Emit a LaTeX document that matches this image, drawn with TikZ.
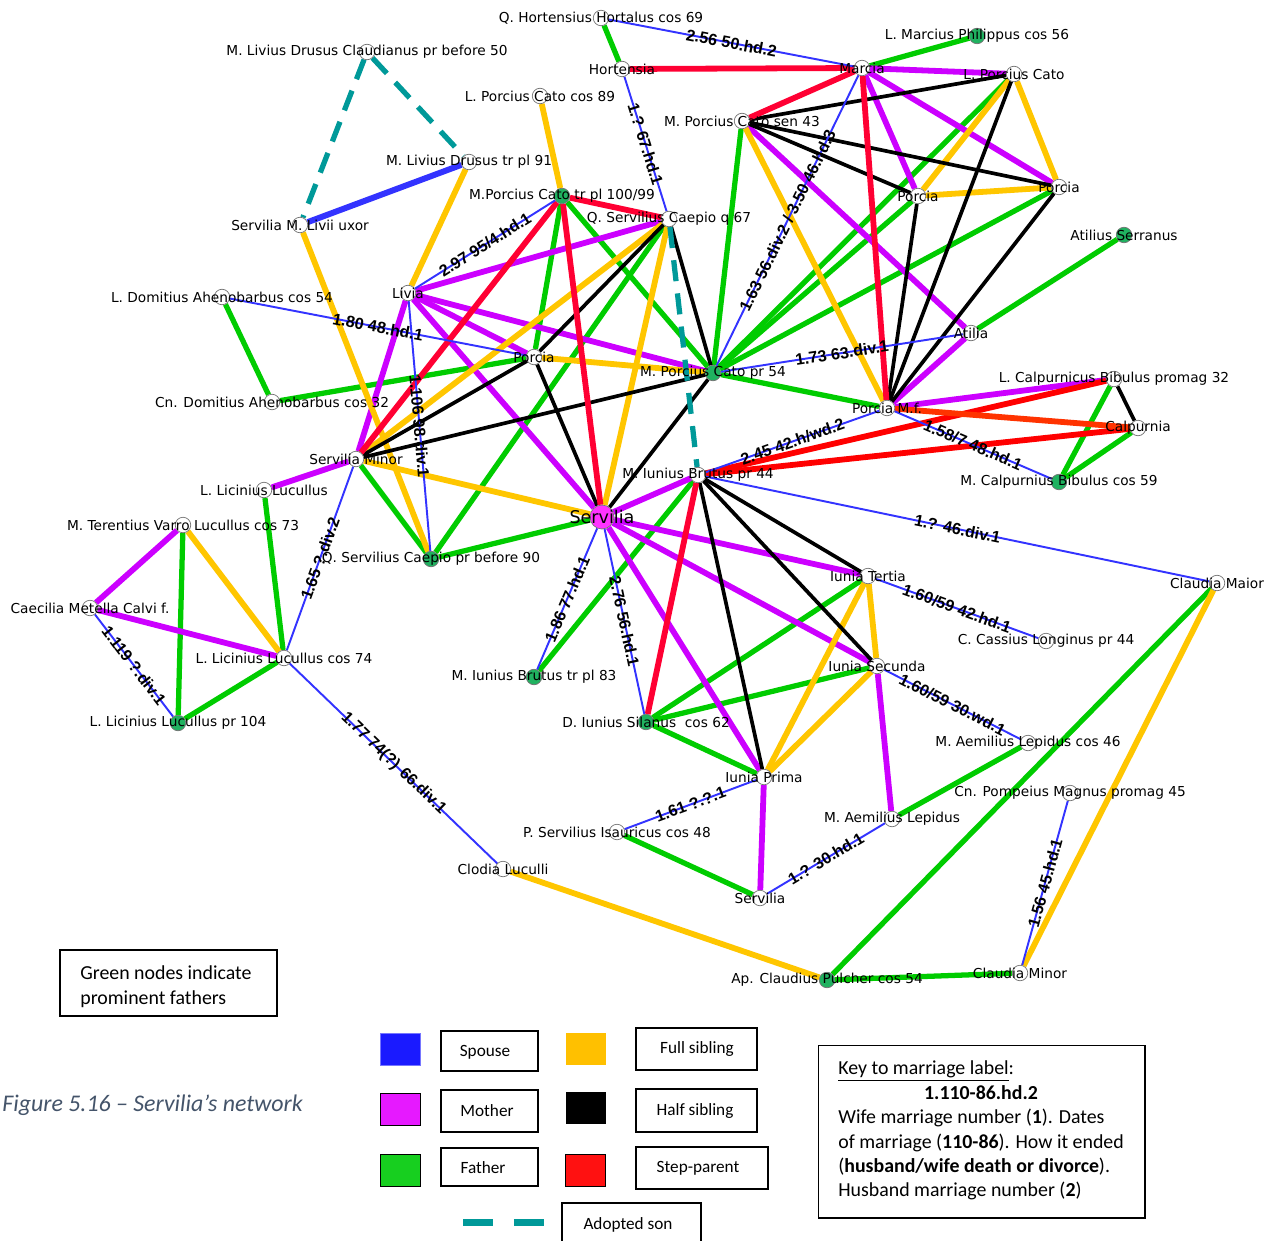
\documentclass[tikz,border=0pt]{standalone}
\usepackage{fontspec}
\setmainfont{DejaVu Sans}
\newfontfamily\edgefont{Liberation Sans}
\newfontfamily\calfont{Carlito}
\pgfdeclarelayer{edgelayer}
\pgfsetlayers{edgelayer,main}
\definecolor{cspouse}{RGB}{51,51,255}
\definecolor{cmother}{RGB}{204,0,255}
\definecolor{cfather}{RGB}{0,204,0}
\definecolor{cfull}{RGB}{255,198,0}
\definecolor{chalf}{RGB}{0,0,0}
\definecolor{cstep}{RGB}{255,0,51}
\definecolor{cstepb}{RGB}{255,0,0}
\definecolor{cstepo}{RGB}{255,51,0}
\definecolor{cadopt}{RGB}{0,153,153}
\definecolor{cgnode}{RGB}{32,178,96}
\definecolor{csnode}{RGB}{255,51,255}
\definecolor{ccaption}{RGB}{68,84,106}
\definecolor{lgblue}{RGB}{26,26,255}
\definecolor{lgmag}{RGB}{230,25,255}
\definecolor{lggreen}{RGB}{23,207,31}
\definecolor{lgyellow}{RGB}{255,192,0}
\definecolor{lgred}{RGB}{255,17,17}
\tikzset{
  spouse/.style={draw=cspouse, line width=1.1pt},
  mother/.style={draw=cmother, line width=3.3pt},
  father/.style={draw=cfather, line width=3pt},
  full/.style={draw=cfull, line width=3.3pt},
  half/.style={draw=chalf, line width=2.1pt},
  steppar/.style={draw=cstep, line width=3.3pt},
  adopt/.style={draw=cadopt, line width=3pt, dash pattern=on 12pt off 7pt},
  elab/.style={font=\edgefont\bfseries\fontsize{9.2}{9.2}\selectfont, sloped, midway, inner sep=0pt},
  pn/.style={circle, draw=black!55, fill=white, line width=0.4pt, minimum size=0.31cm, inner sep=0pt},
  gn/.style={pn, fill=cgnode},
  nl/.style={font=\fontsize{7.8}{9}\selectfont, inner sep=0pt},
  lgsq/.style={minimum width=0.8cm, minimum height=0.64cm, inner sep=0pt},
  lgbox/.style={draw, line width=0.6pt, inner sep=0pt},
  lgtxt/.style={font=\calfont\fontsize{9.8}{11}\selectfont, inner sep=0pt},
  keytxt/.style={font=\calfont\fontsize{11.3}{13}\selectfont, inner sep=0pt, anchor=base west}
}
\begin{document}
\begin{tikzpicture}[x=0.02cm, y=-0.02cm]
\useasboundingbox (0,0) rectangle (1280,1240);
% ---------- nodes ----------
\node[pn] (hort) at (601,18) {};
\node[gn] (philip) at (977,36) {};
\node[pn] (drusc) at (367,52) {};
\node[pn] (hortensia) at (622,69) {};
\node[pn] (marcia) at (862,68) {};
\node[pn] (lcato) at (1014,74) {};
\node[pn] (lcato89) at (540,96) {};
\node[pn] (catosen) at (742,121) {};
\node[pn] (drusus) at (469,162) {};
\node[gn] (catotr) at (562,196) {};
\node[pn] (porciaR) at (1059,187) {};
\node[pn] (porciaM) at (918,196) {};
\node[pn] (caepioq) at (669,219) {};
\node[pn] (servliv) at (300,225) {};
\node[gn] (atser) at (1124,235) {};
\node[pn] (ldom) at (222,297) {};
\node[pn] (livia) at (408,293) {};
\node[pn] (atilia) at (971,333) {};
\node[pn] (porciaC) at (534,357) {};
\node[gn] (catopr) at (713,373) {};
\node[pn] (calpL) at (1114,379) {};
\node[pn] (cndom) at (272,402) {};
\node[pn] (porciaMf) at (887,408) {};
\node[pn] (calpurnia) at (1138,428) {};
\node[pn] (servmin) at (356,459) {};
\node[pn] (brutus) at (698,475) {};
\node[gn] (calpM) at (1059,482) {};
\node[pn] (lucL) at (264,490) {};
\node[pn, fill=csnode, minimum size=0.48cm] (servilia) at (602,517) {};
\node[pn] (varro) at (183,525) {};
\node[gn] (caepio90) at (431,559) {};
\node[pn] (tertia) at (868,576) {};
\node[pn] (clmaior) at (1217,583) {};
\node[pn] (caecilia) at (90,608) {};
\node[pn] (cassius) at (1046,641) {};
\node[pn] (luc74) at (284,658) {};
\node[pn] (secunda) at (877,666) {};
\node[gn] (brutus83) at (534,677) {};
\node[gn] (silanus) at (646,722) {};
\node[gn] (luc104) at (178,723) {};
\node[pn] (lep46) at (1028,743) {};
\node[pn] (prima) at (764,777) {};
\node[pn] (pomp) at (1070,793) {};
\node[pn] (lep) at (892,819) {};
\node[pn] (isaur) at (617,832) {};
\node[pn] (clodia) at (503,869) {};
\node[pn] (servB) at (760,898) {};
\node[gn] (appius) at (827,980) {};
\node[pn] (clminor) at (1020,973) {};
% ---------- edges ----------
\begin{pgfonlayer}{edgelayer}
\fill[white] (0,0) rectangle (1280,1240);
% father
\draw[father] (hort) -- (hortensia);
\draw[father] (philip) -- (marcia);
\draw[father] (catosen) -- (catopr);
\draw[father] (catopr) -- (lcato);
\draw[father] (catopr) -- (porciaM);
\draw[father] (catopr) -- (porciaR);
\draw[father] (catopr) -- (porciaMf);
\draw[father] (catotr) -- (catopr);
\draw[father] (catotr) -- (porciaC);
\draw[father] (atser) -- (atilia);
\draw[father] (ldom) -- (cndom);
\draw[father] (cndom) -- (porciaC);
\draw[father] (lucL) -- (luc74);
\draw[father] (varro) -- (luc104);
\draw[father] (luc104) -- (luc74);
\draw[father] (caepio90) -- (servilia);
\draw[father] (caepio90) -- (servmin);
\draw[father] (caepio90) -- (caepioq);
\draw[father] (brutus) -- (brutus83);
\draw[father] (silanus) -- (tertia);
\draw[father] (silanus) -- (secunda);
\draw[father] (silanus) -- (prima);
\draw[father] (isaur) -- (servB);
\draw[father] (lep) -- (lep46);
\draw[father] (calpL) -- (calpM);
\draw[father] (calpM) -- (calpurnia);
\draw[father] (clmaior) -- (appius);
\draw[father] (appius) -- (clminor);
% mother
\draw[mother] (marcia) -- (lcato);
\draw[mother] (marcia) -- (porciaM);
\draw[mother] (marcia) -- (porciaR);
\draw[mother] (atilia) -- (catosen);
\draw[mother] (atilia) -- (porciaMf);
\draw[mother] (livia) -- (caepioq);
\draw[mother] (livia) -- (catopr);
\draw[mother] (livia) -- (porciaC);
\draw[mother] (livia) -- (servilia);
\draw[mother] (livia) -- (servmin);
\draw[mother] (servmin) -- (lucL);
\draw[mother] (varro) -- (caecilia);
\draw[mother] (caecilia) -- (luc74);
\draw[mother] (servilia) -- (brutus);
\draw[mother] (servilia) -- (tertia);
\draw[mother] (servilia) -- (secunda);
\draw[mother] (servilia) -- (prima);
\draw[mother] (porciaMf) -- (calpL);
\draw[mother] (prima) -- (servB);
\draw[mother] (secunda) -- (lep);
% full sibling
\draw[full] (lcato89) -- (catotr);
\draw[full] (drusus) -- (livia);
\draw[full] (servliv) -- (caepio90);
\draw[full] (servmin) -- (caepioq);
\draw[full] (servmin) -- (servilia);
\draw[full] (caepioq) -- (servilia);
\draw[full] (catopr) -- (porciaC);
\draw[full] (catosen) -- (porciaMf);
\draw[full] (lcato) -- (porciaR);
\draw[full] (lcato) -- (porciaM);
\draw[full] (porciaM) -- (porciaR);
\draw[full] (varro) -- (luc74);
\draw[full] (clodia) -- (appius);
\draw[full] (clmaior) -- (clminor);
\draw[full] (tertia) -- (secunda);
\draw[full] (tertia) -- (prima);
\draw[full] (secunda) -- (prima);
% half sibling
\draw[half] (catosen) -- (lcato);
\draw[half] (catosen) -- (porciaR);
\draw[half] (catosen) -- (porciaM);
\draw[half] (porciaMf) -- (porciaM);
\draw[half] (porciaMf) -- (lcato);
\draw[half] (porciaMf) -- (porciaR);
\draw[half] (caepioq) -- (porciaC);
\draw[half] (caepioq) -- (catopr);
\draw[half] (servmin) -- (porciaC);
\draw[half] (servmin) -- (catopr);
\draw[half] (porciaC) -- (servilia);
\draw[half] (catopr) -- (servilia);
\draw[half] (brutus) -- (tertia);
\draw[half] (brutus) -- (secunda);
\draw[half] (brutus) -- (prima);
\draw[half] (calpL) -- (calpurnia);
% step-parent
\draw[steppar] (hortensia) -- (marcia);
\draw[steppar] (marcia) -- (catosen);
\draw[steppar] (marcia) -- (porciaMf);
\draw[steppar] (catotr) -- (caepioq);
\draw[steppar] (catotr) -- (servmin);
\draw[steppar] (catotr) -- (servilia);
\draw[steppar] (brutus) -- (silanus);
\draw[steppar, draw=cstepb] (brutus) -- (calpL);
\draw[steppar, draw=cstepb] (brutus) -- (calpurnia);
\draw[steppar, draw=cstepo] (porciaMf) -- (calpurnia);
% adopted son
\draw[adopt] (drusc) -- (servliv);
\draw[adopt] (drusc) -- (drusus);
\draw[adopt] (caepioq) -- (brutus);
% spouse
\draw[spouse, line width=3.4pt] (drusus) -- (servliv);
\draw[spouse] (hort) -- node[elab] {2.56 50.hd.2} (marcia);
\draw[spouse] (hortensia) -- node[elab] {1.? 67.hd.1} (caepioq);
\draw[spouse] (catopr) -- node[elab] {1.63 56.div.2 / 3.50 46.hd.3} (marcia);
\draw[spouse] (catopr) -- node[elab] {1.73 63.div.1} (atilia);
\draw[spouse] (livia) -- node[elab] {2.97 95/4.hd.1} (catotr);
\draw[spouse] (livia) -- node[elab] {1.106 98.div.1} (caepio90);
\draw[spouse] (ldom) -- node[elab] {1.80 48.hd.1} (porciaC);
\draw[spouse] (luc74) -- node[elab] {1.65 ?.div.2} (servmin);
\draw[spouse] (caecilia) -- node[elab] {1.119 ?.div.1} (luc104);
\draw[spouse] (luc74) -- node[elab] {1.77 74(?) 66.div.1} (clodia);
\draw[spouse] (brutus83) -- node[elab] {1.86 77.hd.1} (servilia);
\draw[spouse] (servilia) -- node[elab] {2.76 56.hd.1} (silanus);
\draw[spouse] (brutus) -- node[elab] {2.45 42.h/wd.2} (porciaMf);
\draw[spouse] (porciaMf) -- node[elab] {1.58/7 48.hd.1} (calpM);
\draw[spouse] (brutus) -- node[elab] {1.? 46.div.1} (clmaior);
\draw[spouse] (tertia) -- node[elab] {1.60/59 42.hd.1} (cassius);
\draw[spouse] (secunda) -- node[elab] {1.60/59 30.wd.1} (lep46);
\draw[spouse] (isaur) -- node[elab] {1.61 ?.?.1} (prima);
\draw[spouse] (servB) -- node[elab] {1.? 30.hd.1} (lep);
\draw[spouse] (clminor) -- node[elab] {1.56 45.hd.1} (pomp);
\end{pgfonlayer}
% ---------- node labels ----------
\node[nl] (hort-l) at (hort) {Q. Hortensius Hortalus cos 69};
\node[nl] (philip-l) at (philip) {L. Marcius Philippus cos 56};
\node[nl] (drusc-l) at (drusc) {M. Livius Drusus Claudianus pr before 50};
\node[nl] (hortensia-l) at (hortensia) {Hortensia};
\node[nl] (marcia-l) at (marcia) {Marcia};
\node[nl] (lcato-l) at (lcato) {L. Porcius Cato};
\node[nl] (lcato89-l) at (lcato89) {L. Porcius Cato cos 89};
\node[nl] (catosen-l) at (catosen) {M. Porcius Cato sen 43};
\node[nl] (drusus-l) at (drusus) {M. Livius Drusus tr pl 91};
\node[nl] (catotr-l) at (catotr) {M.Porcius Cato tr pl 100/99};
\node[nl] (porciaR-l) at (porciaR) {Porcia};
\node[nl] (porciaM-l) at (porciaM) {Porcia};
\node[nl] (caepioq-l) at (caepioq) {Q. Servilius Caepio q 67};
\node[nl] (servliv-l) at (servliv) {Servilia M. Livii uxor};
\node[nl] (atser-l) at (atser) {Atilius Serranus};
\node[nl] (ldom-l) at (ldom) {L. Domitius Ahenobarbus cos 54};
\node[nl] (livia-l) at (livia) {Livia};
\node[nl] (atilia-l) at (atilia) {Atilia};
\node[nl] (porciaC-l) at (porciaC) {Porcia};
\node[nl] (catopr-l) at (catopr) {M. Porcius Cato pr 54};
\node[nl] (calpL-l) at (calpL) {L. Calpurnicus Bibulus promag 32};
\node[nl] (cndom-l) at (cndom) {Cn. Domitius Ahenobarbus cos 32};
\node[nl] (porciaMf-l) at (porciaMf) {Porcia M.f.};
\node[nl] (calpurnia-l) at (calpurnia) {Calpurnia};
\node[nl] (servmin-l) at (servmin) {Servilia Minor};
\node[nl] (brutus-l) at (brutus) {M. Iunius Brutus pr 44};
\node[nl] (calpM-l) at (calpM) {M. Calpurnius Bibulus cos 59};
\node[nl] (lucL-l) at (lucL) {L. Licinius Lucullus};
\node[nl, font=\fontsize{10}{12}\selectfont] (servilia-l) at (servilia) {Servilia};
\node[nl] (varro-l) at (varro) {M. Terentius Varro Lucullus cos 73};
\node[nl] (caepio90-l) at (caepio90) {Q. Servilius Caepio pr before 90};
\node[nl] (tertia-l) at (tertia) {Iunia Tertia};
\node[nl] (clmaior-l) at (clmaior) {Claudia Maior};
\node[nl] (caecilia-l) at (caecilia) {Caecilia Metella Calvi f.};
\node[nl] (cassius-l) at (cassius) {C. Cassius Longinus pr 44};
\node[nl] (luc74-l) at (luc74) {L. Licinius Lucullus cos 74};
\node[nl] (secunda-l) at (secunda) {Iunia Secunda};
\node[nl] (brutus83-l) at (brutus83) {M. Iunius Brutus tr pl 83};
\node[nl] (silanus-l) at (silanus) {D. Iunius Silanus\ \ cos 62};
\node[nl] (luc104-l) at (luc104) {L. Licinius Lucullus pr 104};
\node[nl] (lep46-l) at (lep46) {M. Aemilius Lepidus cos 46};
\node[nl] (prima-l) at (prima) {Iunia Prima};
\node[nl] (pomp-l) at (pomp) {Cn. Pompeius Magnus promag 45};
\node[nl] (lep-l) at (lep) {M. Aemilius Lepidus};
\node[nl] (isaur-l) at (isaur) {P. Servilius Isauricus cos 48};
\node[nl] (clodia-l) at (clodia) {Clodia Luculli};
\node[nl] (servB-l) at (servB) {Servilia};
\node[nl] (appius-l) at (appius) {Ap. Claudius Pulcher cos 54};
\node[nl] (clminor-l) at (clminor) {Claudia Minor};
% ---------- legend ----------
\node[lgbox, minimum width=4.34cm, minimum height=1.32cm] (gnbox) at (168.5,983) {};
\node[keytxt] (gnt1) at (80,979) {Green nodes indicate};
\node[keytxt] (gnt2) at (80,1004) {prominent fathers};
\node[anchor=base west, inner sep=0pt, font=\calfont\itshape\fontsize{13.6}{16}\selectfont, text=ccaption] (caption) at (2,1111) {Figure 5.16 – Servilia’s network};
% colour squares
\node[lgsq, fill=lgblue, draw=lgblue!60] (sqblue) at (400,1049) {};
\node[lgsq, fill=lgmag, draw=black, line width=0.5pt] (sqmag) at (400,1109) {};
\node[lgsq, fill=lggreen, draw=black, line width=0.5pt] (sqgreen) at (400,1170) {};
\node[lgsq, fill=lgyellow] (sqyellow) at (585.5,1049) {};
\node[lgsq, fill=black] (sqblack) at (585.5,1108) {};
\node[lgsq, fill=lgred, draw=black, line width=0.5pt] (sqred) at (585.5,1170) {};
% label boxes
\node[lgbox, minimum width=1.94cm, minimum height=0.8cm] (bspouse) at (489.5,1051) {};
\node[lgtxt] (tspouse) at (485,1052) {Spouse};
\node[lgbox, minimum width=1.94cm, minimum height=0.84cm] (bmother) at (489.5,1111) {};
\node[lgtxt] (tmother) at (487,1111) {Mother};
\node[lgbox, minimum width=1.94cm, minimum height=0.76cm] (bfather) at (489.5,1167) {};
\node[lgtxt] (tfather) at (483,1168) {Father};
\node[lgbox, minimum width=2.42cm, minimum height=0.84cm] (bfull) at (696.5,1049) {};
\node[lgtxt] (tfull) at (697,1049) {Full sibling};
\node[lgbox, minimum width=2.42cm, minimum height=0.86cm] (bhalf) at (696.5,1110.5) {};
\node[lgtxt] (thalf) at (695,1111) {Half sibling};
\node[lgbox, minimum width=2.64cm, minimum height=0.84cm] (bstep) at (702,1168) {};
\node[lgtxt] (tstep) at (698,1168) {Step-parent};
\coordinate (ad1) at (463,1222);
\coordinate (ad2) at (544,1222);
\draw[draw=cadopt, line width=4pt, dash pattern=on 17pt off 12pt] (ad1) -- (ad2);
\coordinate (abl) at (562,1245);
\coordinate (abr) at (701,1245);
\draw[line width=0.6pt] (abl) |- (701,1203) -- (abr);
\node[lgtxt] (tadopt) at (628,1225) {Adopted son};
% key box
\node[lgbox, minimum width=6.54cm, minimum height=3.46cm] (keybox) at (981.5,1131.5) {};
\node[keytxt] (k1) at (838,1074) {\underline{Key to marriage label}:};
\node[keytxt, anchor=base] (k2) at (981,1099) {\textbf{1.110-86.hd.2}};
\node[keytxt] (k3) at (838,1123) {Wife marriage number (\textbf{1}). Dates};
\node[keytxt] (k4) at (838,1148) {of marriage (\textbf{110-86}). How it ended};
\node[keytxt] (k5) at (838,1172) {(\textbf{husband/wife death or divorce}).};
\node[keytxt] (k6) at (838,1196) {Husband marriage number (\textbf{2})};
\end{tikzpicture}
\end{document}
